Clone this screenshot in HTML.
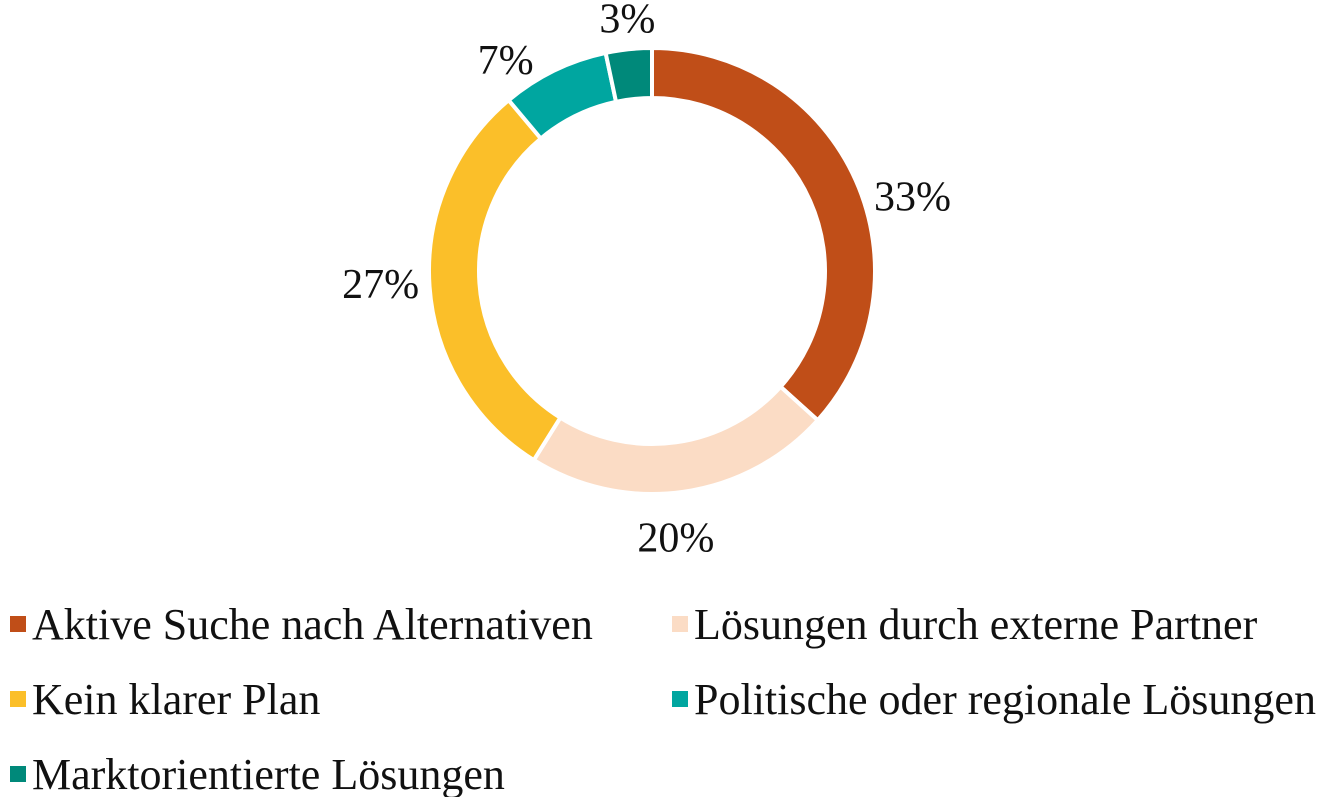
<!DOCTYPE html>
<html><head><meta charset="utf-8"><style>
html,body{margin:0;padding:0;background:#fff;}
body{width:1323px;height:797px;overflow:hidden;font-family:"Liberation Serif",serif;}
svg text{font-family:"Liberation Serif",serif;fill:#111;}
</style></head><body>
<svg id="chart" width="1323" height="797" viewBox="0 0 1323 797" xmlns="http://www.w3.org/2000/svg">
<g id="slices"></g>
<g id="labels"></g>
<g id="legend"></g>
</svg>
<script>
const categories = ["Aktive Suche nach Alternativen","Lösungen durch externe Partner","Kein klarer Plan","Politische oder regionale Lösungen","Marktorientierte Lösungen"];
const values = [33,20,27,7,3];
const colors = ["#C04E18","#FBDCC5","#FBBF29","#00A6A0","#00897A"];
const NS="http://www.w3.org/2000/svg";
const cx=652, cy=271, R=223, r=173;
const nudge=[[12,35],[-14,-4],[0,-7],[-39,8],[1,-10]];
const total=values.reduce((a,b)=>a+b,0);
function pt(a,rad){return [cx+Math.sin(a)*rad, cy-Math.cos(a)*rad];}
const sg=document.getElementById('slices'), lg=document.getElementById('labels');
let a0=0;
values.forEach((v,i)=>{
  const a1=a0+v/total*2*Math.PI;
  const large=(a1-a0)>Math.PI?1:0;
  const [x1,y1]=pt(a0,R),[x2,y2]=pt(a1,R),[x3,y3]=pt(a1,r),[x4,y4]=pt(a0,r);
  const p=document.createElementNS(NS,'path');
  p.setAttribute('d',`M${x1},${y1}A${R},${R} 0 ${large} 1 ${x2},${y2}L${x3},${y3}A${r},${r} 0 ${large} 0 ${x4},${y4}Z`);
  p.setAttribute('fill',colors[i]);p.setAttribute('stroke','#fff');p.setAttribute('stroke-width','4');
  
  
  sg.appendChild(p);
  const mid=(a0+a1)/2;
  const lr = v<10 ? 245 : 272;
  const [lx,ly]=pt(mid,lr);
  const t=document.createElementNS(NS,'text');
  t.setAttribute('x',lx+nudge[i][0]);t.setAttribute('y',ly+15+nudge[i][1]);t.setAttribute('text-anchor','middle');t.setAttribute('font-size','42');
  t.textContent=v+'%';
  
  
  lg.appendChild(t);
  a0=a1;
});
const leg=document.getElementById('legend');
categories.forEach((c,i)=>{
  const col=i%2, row=Math.floor(i/2);
  const x=col?672:10, y=624+row*75;
  const g=document.createElementNS(NS,'g');
  
  
  const s=document.createElementNS(NS,'rect');
  s.setAttribute('x',x);s.setAttribute('y',y-8);s.setAttribute('width',16);s.setAttribute('height',16);s.setAttribute('fill',colors[i]);
  const t=document.createElementNS(NS,'text');
  t.setAttribute('x',x+22);t.setAttribute('y',y+15);t.setAttribute('font-size','44');
  t.textContent=c;
  g.appendChild(s);g.appendChild(t);leg.appendChild(g);
});
</script>
</body></html>
